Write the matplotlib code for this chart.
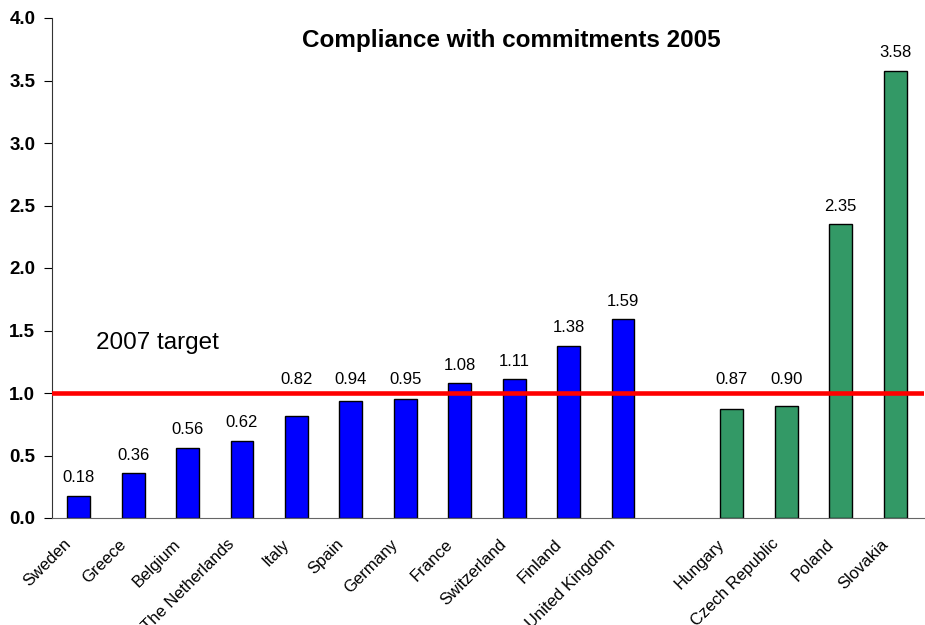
"""Compliance with commitments 2005 bar chart."""

import matplotlib
matplotlib.use("Agg")
import matplotlib.pyplot as plt

plt.rcParams["font.family"] = ["Liberation Sans", "DejaVu Sans"]

west_countries = ["Sweden", "Greece", "Belgium", "The Netherlands", "Italy", "Spain",
                  "Germany", "France", "Switzerland", "Finland", "United Kingdom"]
west_values = [0.18, 0.36, 0.56, 0.62, 0.82, 0.94, 0.95, 1.08, 1.11, 1.38, 1.59]
east_countries = ["Hungary", "Czech Republic", "Poland", "Slovakia"]
east_values = [0.87, 0.90, 2.35, 3.58]
target = 1.0

west_pos = list(range(len(west_countries)))
east_pos = [len(west_countries) + 1 + i for i in range(len(east_countries))]

fig = plt.figure(figsize=(9.25, 6.25), dpi=100)
ax = fig.add_axes([0.0562, 0.1712, 0.9428, 0.8])

bar_w = 0.42
ax.bar(west_pos, west_values, width=bar_w, color="#0000FF", edgecolor="black", linewidth=1, zorder=2)
ax.bar(east_pos, east_values, width=bar_w, color="#339966", edgecolor="black", linewidth=1, zorder=2)

# value labels; the ones that would sit on the target line are lifted above it
for x, v in zip(west_pos + east_pos, west_values + east_values):
    y = v + 0.144
    if 0.85 < y < 1.11:
        y = 1.11
    ax.text(x, y, f"{v:.2f}", ha="center", va="center", fontsize=12)

ax.axhline(target, color="#FF0000", linewidth=3.3, zorder=3)
ax.text(0.32, 1.40, "2007 target", fontsize=17.5, ha="left", va="center")

ax.set_xlim(-0.49, 15.53)
ax.set_ylim(0, 4.0)
ax.set_yticks([0, 0.5, 1.0, 1.5, 2.0, 2.5, 3.0, 3.5, 4.0])
ax.set_yticklabels([f"{t:.1f}" for t in ax.get_yticks()], fontsize=13.5, fontweight="bold")
ax.set_xticks(west_pos + east_pos)
ax.set_xticklabels([])
ax.tick_params(axis="x", length=0)
ax.tick_params(axis="y", length=6, direction="out", pad=6)

# category names, rotated and ending just left of each bar
for x, name in zip(west_pos + east_pos, west_countries + east_countries):
    ax.annotate(name, xy=(x, 0), xycoords=("data", "axes fraction"),
                xytext=(-7, -17), textcoords="offset points",
                rotation=45, ha="right", va="center", rotation_mode="anchor",
                fontsize=12, annotation_clip=False)

for side in ["top", "right"]:
    ax.spines[side].set_visible(False)
ax.spines["left"].set_color("#333333")
ax.spines["bottom"].set_color("#666666")

fig.text(0.5525, 0.936, "Compliance with commitments 2005", fontsize=17.5,
         fontweight="bold", ha="center", va="center")

fig.savefig("out.png", dpi=100)
